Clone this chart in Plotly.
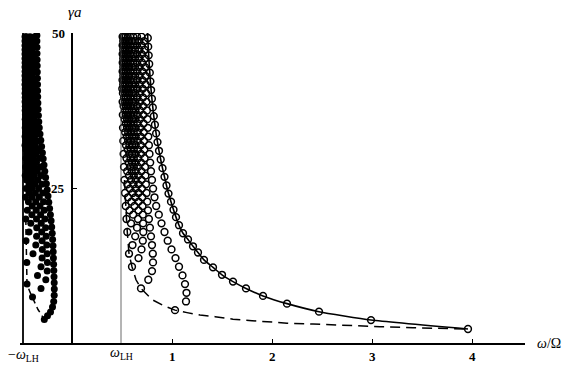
import plotly.graph_objects as go

# ---------------- data ----------------
W_LH = 0.49                       # omega_LH / Omega
X_TICKS = [1, 2, 3, 4]
X_TICK_TEXT = ["1", "2", "3", "4"]
Y_TICKS = [25, 50]
Y_TICK_TEXT = ["25", "50"]

# gamma*a rows used by the families of curves (two staggered rows)
GA = [49.4, 48.0, 46.6, 45.2, 43.8, 42.4, 41.0, 39.6, 38.2, 36.8, 35.4, 34.0, 32.6, 31.2, 29.8,
      28.4, 27.0, 25.6, 24.2, 22.8, 21.4, 20.0, 18.6, 17.2, 15.8, 14.4, 13.0, 11.6, 10.2, 8.8,
      7.4, 6.0, 4.6]
GB = [48.7, 47.3, 45.9, 44.5, 43.1, 41.7, 40.3, 38.9, 37.5, 36.1, 34.7, 33.3, 31.9, 30.5, 29.1,
      27.7, 26.3, 24.9, 23.5, 22.1, 20.7, 19.3, 17.9, 16.5, 15.1, 13.7, 12.3, 10.9, 9.5, 8.1,
      6.7, 5.3, 3.9]

# envelope (solid line with open circles)
ENV_G = [2.26, 3.7, 5.05, 6.35, 7.6, 8.8, 9.9, 11.0, 12.2, 13.4, 14.6, 15.6, 16.7, 17.7, 19.0,
         20.3, 21.5, 22.8, 24.1, 25.4, 26.8, 28.2, 29.6, 31.0, 32.4, 33.8, 35.2, 36.6, 38.0,
         39.4, 40.8, 42.2, 43.6, 45.0, 46.4, 47.8, 49.2, 50.6]
ENV_W = [3.96, 2.99, 2.47, 2.15, 1.91, 1.74, 1.61, 1.50, 1.41, 1.32, 1.26, 1.21, 1.16, 1.11, 1.07,
         1.04, 1.015, 0.99, 0.965, 0.945, 0.925, 0.905, 0.887, 0.87, 0.855, 0.841, 0.829, 0.818,
         0.808, 0.799, 0.791, 0.784, 0.778, 0.772, 0.767, 0.762, 0.758, 0.754]

# dashed locus of the starting points (right side)
RDASH_W = [0.525, 0.53, 0.537, 0.545, 0.553, 0.57, 0.60, 0.64, 0.69, 0.80, 0.92, 1.03, 1.15,
           1.28, 1.43, 1.61, 1.80, 1.98, 2.15, 2.41, 2.75, 3.08, 3.41, 3.75, 3.96]
RDASH_G = [26.3, 24.2, 22.1, 20.0, 17.9, 14.4, 12.3, 10.2, 8.8, 7.0, 6.0, 5.3, 4.9, 4.5, 4.25,
           3.85, 3.6, 3.35, 3.2, 3.06, 2.78, 2.63, 2.47, 2.32, 2.26]

# open-circle curves (omega values from the top row downwards)
S1_W = [0.722, 0.725, 0.728, 0.731, 0.734, 0.737, 0.741, 0.745, 0.749, 0.753, 0.758, 0.763, 0.769,
        0.775, 0.782, 0.79, 0.80, 0.811, 0.825, 0.842, 0.868, 0.895, 0.925, 0.957, 0.995, 1.035,
        1.07, 1.105, 1.13, 1.145, 1.14, 1.03]
S2_W = [0.695, 0.697, 0.699, 0.701, 0.703, 0.705, 0.707, 0.709, 0.711, 0.713, 0.715, 0.717, 0.72,
        0.723, 0.726, 0.73, 0.734, 0.739, 0.745, 0.752, 0.76, 0.769, 0.779, 0.79, 0.80, 0.808,
        0.81, 0.80, 0.763, 0.69]
S3_W = [0.672, 0.673, 0.674, 0.675, 0.676, 0.677, 0.678, 0.679, 0.68, 0.681, 0.683, 0.685, 0.687,
        0.689, 0.691, 0.693, 0.696, 0.699, 0.702, 0.705, 0.708, 0.711, 0.713, 0.708, 0.695, 0.665,
        0.60]
S4_W = [0.650, 0.650, 0.651, 0.651, 0.652, 0.652, 0.653, 0.654, 0.655, 0.656, 0.657, 0.658, 0.659,
        0.66, 0.661, 0.662, 0.663, 0.664, 0.665, 0.666, 0.665, 0.66, 0.65, 0.632, 0.605, 0.57]
S5_W = [0.630, 0.630, 0.631, 0.631, 0.632, 0.632, 0.633, 0.633, 0.634, 0.634, 0.635, 0.635, 0.636,
        0.636, 0.637, 0.637, 0.637, 0.636, 0.633, 0.625, 0.612, 0.59, 0.553]
S6_W = [0.612, 0.612, 0.613, 0.613, 0.613, 0.614, 0.614, 0.615, 0.615, 0.616, 0.616, 0.617, 0.617,
        0.618, 0.618, 0.618, 0.617, 0.614, 0.607, 0.595, 0.575, 0.545]
S7_W = [0.596, 0.596, 0.597, 0.597, 0.597, 0.598, 0.598, 0.599, 0.599, 0.6, 0.6, 0.601, 0.601,
        0.601, 0.6, 0.597, 0.59, 0.578, 0.56, 0.537]
S8_W = [0.582, 0.582, 0.582, 0.583, 0.583, 0.583, 0.584, 0.584, 0.585, 0.585, 0.586, 0.586, 0.587,
        0.587, 0.585, 0.58, 0.57, 0.553, 0.53]
S9_W = [0.569, 0.569, 0.569, 0.57, 0.57, 0.57, 0.571, 0.571, 0.572, 0.572, 0.573, 0.574, 0.574,
        0.572, 0.566, 0.552, 0.525]
S10_W = [0.557, 0.557, 0.557, 0.558, 0.558, 0.558, 0.559, 0.559, 0.56, 0.561, 0.562, 0.562, 0.561,
         0.557, 0.545, 0.52]
S11_W = [0.546, 0.546, 0.546, 0.547, 0.547, 0.547, 0.548, 0.548, 0.549, 0.55, 0.55, 0.548, 0.54,
         0.516]
S12_W = [0.536, 0.536, 0.536, 0.537, 0.537, 0.537, 0.538, 0.538, 0.539, 0.539, 0.538, 0.531, 0.513]
S13_W = [0.527, 0.527, 0.527, 0.528, 0.528, 0.528, 0.529, 0.529, 0.529, 0.526, 0.51]
S14_W = [0.519, 0.519, 0.519, 0.52, 0.52, 0.52, 0.521, 0.52, 0.516, 0.508]
S15_W = [0.512, 0.512, 0.512, 0.513, 0.513, 0.512, 0.509, 0.506]
S16_W = [0.506, 0.506, 0.506, 0.507, 0.506, 0.505, 0.503]

RIGHT_CURVES = [("B", S1_W), ("A", S2_W), ("B", S3_W), ("A", S4_W), ("B", S5_W), ("A", S6_W),
                ("B", S7_W), ("A", S8_W), ("B", S9_W), ("A", S10_W), ("B", S11_W), ("A", S12_W),
                ("B", S13_W), ("A", S14_W), ("B", S15_W), ("A", S16_W)]

# filled-dot curves (negative frequencies)
L0_G = [3.8, 4.4, 5.0, 5.8, 6.7, 7.7, 8.7, 9.7, 10.7, 11.7, 12.7, 13.7, 14.7, 15.7, 16.7, 17.7,
        18.7, 19.7, 20.7, 21.7, 22.7, 23.7, 24.7, 25.7, 26.7, 27.7, 28.7, 29.7, 30.7, 31.7, 32.7,
        33.7, 34.7, 35.7, 36.7, 37.7, 38.7, 39.7, 40.7, 41.7, 42.7, 43.7, 44.7, 45.7, 46.7, 47.7,
        48.7, 49.6]
L0_W = [-0.277, -0.245, -0.215, -0.195, -0.183, -0.178, -0.177, -0.178, -0.18, -0.182, -0.184,
        -0.186, -0.188, -0.19, -0.194, -0.198, -0.203, -0.209, -0.216, -0.224, -0.232, -0.24,
        -0.248, -0.256, -0.264, -0.272, -0.28, -0.288, -0.296, -0.304, -0.312, -0.32, -0.327,
        -0.332, -0.336, -0.339, -0.341, -0.343, -0.344, -0.345, -0.346, -0.347, -0.348, -0.349,
        -0.35, -0.35, -0.351, -0.351]
L1_W = [-0.375, -0.375, -0.374, -0.373, -0.372, -0.37, -0.368, -0.365, -0.362, -0.358, -0.353,
        -0.347, -0.34, -0.333, -0.325, -0.317, -0.309, -0.301, -0.293, -0.285, -0.278, -0.271,
        -0.264, -0.258, -0.252, -0.248, -0.246, -0.248, -0.262, -0.31, -0.395]
L2_W = [-0.40, -0.40, -0.399, -0.398, -0.397, -0.395, -0.393, -0.39, -0.387, -0.383, -0.379,
        -0.374, -0.368, -0.362, -0.355, -0.348, -0.341, -0.334, -0.327, -0.32, -0.314, -0.308,
        -0.303, -0.299, -0.297, -0.299, -0.31, -0.345, -0.45]
L3_W = [-0.42, -0.42, -0.419, -0.418, -0.417, -0.416, -0.414, -0.412, -0.41, -0.407, -0.404, -0.4,
        -0.396, -0.391, -0.386, -0.381, -0.376, -0.371, -0.366, -0.362, -0.358, -0.355, -0.353,
        -0.354, -0.362, -0.39, -0.452]
L4_W = [-0.44, -0.44, -0.439, -0.438, -0.437, -0.436, -0.435, -0.433, -0.431, -0.429, -0.426,
        -0.423, -0.42, -0.416, -0.412, -0.408, -0.404, -0.401, -0.399, -0.398, -0.401, -0.412,
        -0.43, -0.46]
L5_W = [-0.455, -0.455, -0.455, -0.454, -0.454, -0.453, -0.452, -0.451, -0.45, -0.448, -0.446,
        -0.444, -0.441, -0.438, -0.435, -0.432, -0.43, -0.429, -0.43, -0.436, -0.447, -0.462]
L6_W = [-0.465, -0.465, -0.465, -0.464, -0.464, -0.463, -0.463, -0.462, -0.461, -0.46, -0.459,
        -0.457, -0.455, -0.453, -0.452, -0.452, -0.454, -0.459, -0.465]
L7_W = [-0.47, -0.47, -0.47, -0.469, -0.469, -0.469, -0.468, -0.468, -0.467, -0.466, -0.465,
        -0.464, -0.463, -0.462, -0.462, -0.464, -0.468]
L8_W = [-0.47, -0.47, -0.47, -0.47, -0.47, -0.47, -0.469, -0.469, -0.468, -0.468, -0.468, -0.469,
        -0.47]

LEFT_CURVES = [("A", L1_W), ("B", L2_W), ("A", L3_W), ("B", L4_W), ("A", L5_W), ("B", L6_W),
               ("A", L7_W), ("B", L8_W)]

LDASH_W = [-0.462, -0.46, -0.452, -0.45, -0.42, -0.395, -0.34, -0.277]
LDASH_G = [20.0, 16.5, 13.0, 9.5, 8.2, 7.4, 5.4, 3.8]

# ---------------- figure ----------------
W, H = 585, 374
fig = go.Figure()

open_marker = dict(symbol="circle-open", size=6.8, color="black", line=dict(width=1.5, color="black"))
dot_marker = dict(symbol="circle", size=7, color="black", line=dict(width=0))

# dashed loci
fig.add_trace(go.Scatter(x=RDASH_W, y=RDASH_G, mode="lines",
                         line=dict(color="black", width=1.5, dash="10px,6px"), hoverinfo="skip"))
fig.add_trace(go.Scatter(x=LDASH_W, y=LDASH_G, mode="lines",
                         line=dict(color="black", width=1.5, dash="6px,4px"), hoverinfo="skip"))

# envelope
fig.add_trace(go.Scatter(x=ENV_W, y=ENV_G, mode="lines+markers",
                         line=dict(color="black", width=1.6, shape="spline", smoothing=0.5),
                         marker=open_marker))

for key, ws in RIGHT_CURVES:
    grid = GA if key == "A" else GB
    fig.add_trace(go.Scatter(x=ws, y=grid[:len(ws)], mode="markers", marker=open_marker))

fig.add_trace(go.Scatter(x=L0_W, y=L0_G, mode="markers", marker=dot_marker))
for key, ws in LEFT_CURVES:
    grid = GA if key == "A" else GB
    fig.add_trace(go.Scatter(x=ws, y=grid[:len(ws)], mode="markers", marker=dot_marker))

# vertical lines at +/- omega_LH
fig.add_shape(type="line", x0=-W_LH, x1=-W_LH, y0=0, y1=Y_TICKS[-1], xref="x", yref="y",
              line=dict(color="black", width=1.8))
fig.add_shape(type="line", x0=W_LH, x1=W_LH, y0=0, y1=Y_TICKS[-1], xref="x", yref="y",
              line=dict(color="#444444", width=0.8))

serif = "Liberation Serif"
ann = []
for v, t in zip(X_TICKS, X_TICK_TEXT):
    ann.append(dict(x=v, y=1 - 356 / H, xref="x", yref="paper", text="<b>" + t + "</b>",
                    showarrow=False, font=dict(family=serif, size=13, color="black"),
                    xanchor="center", yanchor="middle"))
for v, t in zip(Y_TICKS, Y_TICK_TEXT):
    ann.append(dict(x=67 / W, y=v, xref="paper", yref="y", text="<b>" + t + "</b>",
                    showarrow=False, font=dict(family=serif, size=13, color="black"),
                    xanchor="right", yanchor="middle"))
ann.append(dict(x=-W_LH, y=1 - 355 / H, xref="x", yref="paper",
                text="−<i>ω</i><sub>LH</sub>", showarrow=False,
                font=dict(family=serif, size=14, color="black"), xanchor="center", yanchor="middle"))
ann.append(dict(x=W_LH, y=1 - 353 / H, xref="x", yref="paper",
                text="<i>ω</i><sub>LH</sub>", showarrow=False,
                font=dict(family=serif, size=14, color="black"), xanchor="center", yanchor="middle"))
ann.append(dict(x=74 / W, y=1 - 12 / H, xref="paper", yref="paper", text="<i>γa</i>",
                showarrow=False, font=dict(family=serif, size=15, color="black"),
                xanchor="center", yanchor="middle"))
ann.append(dict(x=549 / W, y=1 - 343 / H, xref="paper", yref="paper", text="<i>ω</i>/Ω",
                showarrow=False, font=dict(family=serif, size=14, color="black"),
                xanchor="center", yanchor="middle"))

fig.update_layout(
    width=W, height=H, margin=dict(l=0, r=0, t=0, b=0),
    paper_bgcolor="white", plot_bgcolor="white", showlegend=False,
    annotations=ann,
    xaxis=dict(domain=[20 / W, 525 / W], range=[-0.52, 4.53], showline=True, linecolor="black",
               linewidth=1.5, ticks="inside", tickvals=X_TICKS, ticklen=4, tickcolor="black",
               tickwidth=1, showticklabels=False, showgrid=False, zeroline=False, fixedrange=True),
    yaxis=dict(domain=[31 / H, 341 / H], range=[0, 50], anchor="free", position=72 / W,
               showline=True, linecolor="black", linewidth=1.5, ticks="inside",
               tickvals=Y_TICKS, ticklen=4, tickcolor="black", tickwidth=1,
               showticklabels=False, showgrid=False, zeroline=False, fixedrange=True),
)

fig.write_html("out.html")
